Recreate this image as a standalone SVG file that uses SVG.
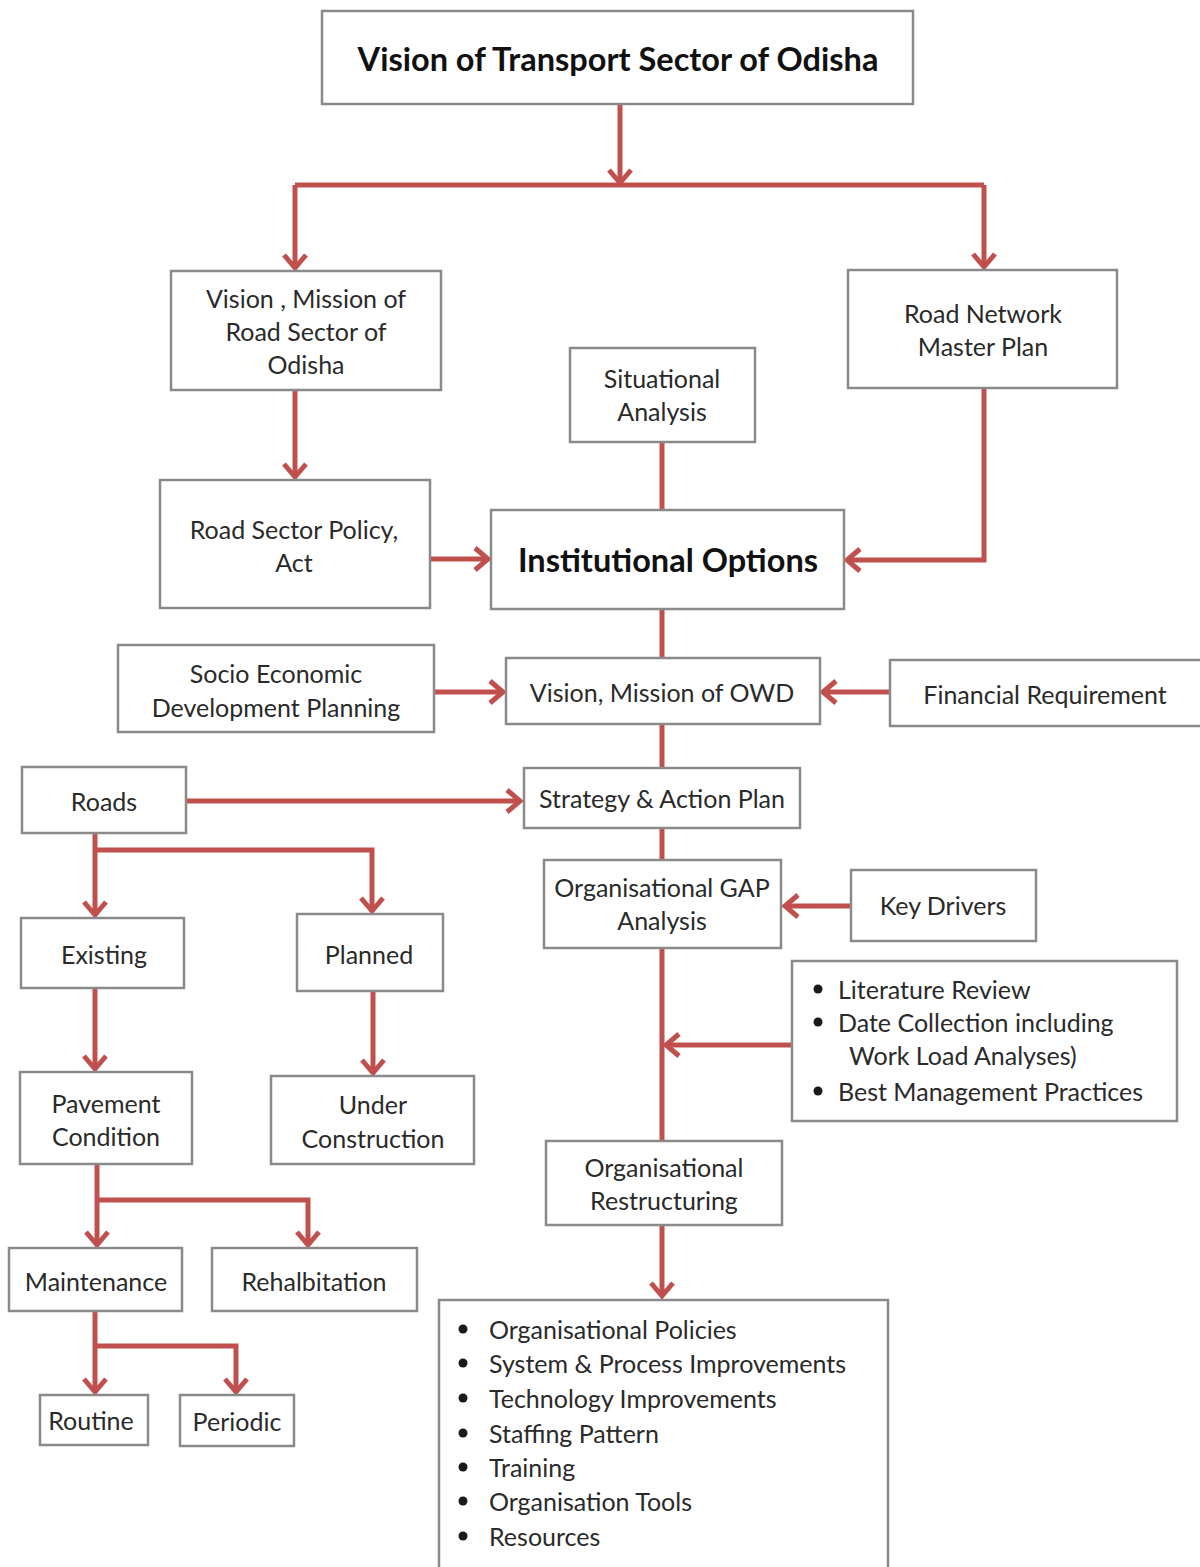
<svg xmlns="http://www.w3.org/2000/svg" width="1200" height="1567" viewBox="0 0 1200 1567">
  <style>
    .box { fill: #ffffff; stroke: #8a8a8a; stroke-width: 2.5; }
    .lbl { font-family: Lato, "Open Sans", "Liberation Sans", sans-serif; font-size: 25px; fill: #2a2a2a; text-anchor: middle; dominant-baseline: central; }
    .lft { text-anchor: start; }
    .big { font-size: 32.5px; font-weight: bold; fill: #111111; }
    .wire { fill: none; stroke: #c0504d; stroke-width: 5; }
    .arr { marker-end: url(#head); }
    .dot { fill: #1a1a1a; }
  </style>
  <defs>
    <marker id="head" markerUnits="userSpaceOnUse" viewBox="-18 -14 22 28" refX="0" refY="0" markerWidth="22" markerHeight="28" orient="auto">
      <path d="M-13,-11 L0,0 L-13,11" fill="none" stroke="#c0504d" stroke-width="5" stroke-linejoin="miter"/>
    </marker>
  </defs>
  <rect width="1200" height="1567" fill="#ffffff"/>

  <!-- connectors -->
  <g id="connectors">
    <path class="wire arr" d="M620,104 V183"/>
    <path class="wire" d="M295,185 H984"/>
    <path class="wire arr" d="M295,185 V268"/>
    <path class="wire arr" d="M984,185 V267"/>
    <path class="wire arr" d="M295,390 V477"/>
    <path class="wire arr" d="M430,559 H488"/>
    <path class="wire arr" d="M984,388 V560 H847"/>
    <path class="wire" d="M662,442 V510"/>
    <path class="wire" d="M662,609 V658"/>
    <path class="wire arr" d="M434,692 H503"/>
    <path class="wire arr" d="M890,692 H823"/>
    <path class="wire" d="M662,724 V768"/>
    <path class="wire arr" d="M186,801 H520"/>
    <path class="wire" d="M662,828 V860"/>
    <path class="wire arr" d="M851,906 H785"/>
    <path class="wire" d="M662,948 V1141"/>
    <path class="wire arr" d="M792,1045 H666"/>
    <path class="wire arr" d="M662,1225 V1296"/>
    <!-- road classification tree -->
    <path class="wire arr" d="M95,833 V915"/>
    <path class="wire arr" d="M95,850 H372 V911"/>
    <path class="wire arr" d="M95,988 V1069"/>
    <path class="wire arr" d="M373,991 V1073"/>
    <path class="wire arr" d="M97,1164 V1245"/>
    <path class="wire arr" d="M97,1200 H308 V1245"/>
    <path class="wire arr" d="M95,1311 V1392"/>
    <path class="wire arr" d="M95,1346 H236 V1392"/>
  </g>

  <g id="vision-transport">
    <rect class="box" x="322" y="11" width="591" height="93"/>
    <text class="lbl big" x="618" y="58">Vision of Transport Sector of Odisha</text>
  </g>
  <g id="vision-road-sector">
    <rect class="box" x="171" y="271" width="270" height="119"/>
    <text class="lbl" x="306" y="298">Vision , Mission of</text>
    <text class="lbl" x="306" y="331">Road Sector of</text>
    <text class="lbl" x="306" y="364">Odisha</text>
  </g>
  <g id="road-network-plan">
    <rect class="box" x="848" y="270" width="269" height="118"/>
    <text class="lbl" x="983" y="313">Road Network</text>
    <text class="lbl" x="983" y="346">Master Plan</text>
  </g>
  <g id="situational-analysis">
    <rect class="box" x="570" y="348" width="185" height="94"/>
    <text class="lbl" x="662" y="378">Situational</text>
    <text class="lbl" x="662" y="411">Analysis</text>
  </g>
  <g id="road-sector-policy">
    <rect class="box" x="160" y="480" width="270" height="128"/>
    <text class="lbl" x="294" y="529">Road Sector Policy,</text>
    <text class="lbl" x="294" y="562">Act</text>
  </g>
  <g id="institutional-options">
    <rect class="box" x="491" y="510" width="353" height="99"/>
    <text class="lbl big" x="668" y="559">Institutional Options</text>
  </g>
  <g id="socio-economic">
    <rect class="box" x="118" y="645" width="316" height="87"/>
    <text class="lbl" x="276" y="673">Socio Economic</text>
    <text class="lbl" x="276" y="707">Development Planning</text>
  </g>
  <g id="vision-owd">
    <rect class="box" x="506" y="658" width="314" height="66"/>
    <text class="lbl" x="662" y="692">Vision, Mission of OWD</text>
  </g>
  <g id="financial-requirement">
    <rect class="box" x="890" y="660" width="316" height="66"/>
    <text class="lbl" x="1045" y="694">Financial Requirement</text>
  </g>
  <g id="roads">
    <rect class="box" x="22" y="767" width="164" height="66"/>
    <text class="lbl" x="104" y="801">Roads</text>
  </g>
  <g id="strategy-action">
    <rect class="box" x="524" y="768" width="276" height="60"/>
    <text class="lbl" x="662" y="798">Strategy &amp; Action Plan</text>
  </g>
  <g id="gap-analysis">
    <rect class="box" x="544" y="860" width="237" height="88"/>
    <text class="lbl" x="662" y="887">Organisational GAP</text>
    <text class="lbl" x="662" y="920">Analysis</text>
  </g>
  <g id="key-drivers">
    <rect class="box" x="851" y="870" width="185" height="71"/>
    <text class="lbl" x="943" y="905">Key Drivers</text>
  </g>
  <g id="inputs-list">
    <rect class="box" x="792" y="961" width="385" height="160"/>
    <circle class="dot" cx="818" cy="989" r="4.5"/>
    <text class="lbl lft" x="838" y="989">Literature Review</text>
    <circle class="dot" cx="818" cy="1022" r="4.5"/>
    <text class="lbl lft" x="838" y="1022">Date Collection including</text>
    <text class="lbl lft" x="849" y="1055">Work Load Analyses)</text>
    <circle class="dot" cx="818" cy="1091" r="4.5"/>
    <text class="lbl lft" x="838" y="1091">Best Management Practices</text>
  </g>
  <g id="restructuring">
    <rect class="box" x="546" y="1141" width="236" height="84"/>
    <text class="lbl" x="664" y="1167">Organisational</text>
    <text class="lbl" x="664" y="1200">Restructuring</text>
  </g>
  <g id="outcomes-list">
    <rect class="box" x="439" y="1300" width="449" height="280"/>
    <circle class="dot" cx="463" cy="1329" r="4.5"/>
    <text class="lbl lft" x="489" y="1329">Organisational Policies</text>
    <circle class="dot" cx="463" cy="1363" r="4.5"/>
    <text class="lbl lft" x="489" y="1363">System &amp; Process Improvements</text>
    <circle class="dot" cx="463" cy="1398" r="4.5"/>
    <text class="lbl lft" x="489" y="1398">Technology Improvements</text>
    <circle class="dot" cx="463" cy="1433" r="4.5"/>
    <text class="lbl lft" x="489" y="1433">Staffing Pattern</text>
    <circle class="dot" cx="463" cy="1467" r="4.5"/>
    <text class="lbl lft" x="489" y="1467">Training</text>
    <circle class="dot" cx="463" cy="1501" r="4.5"/>
    <text class="lbl lft" x="489" y="1501">Organisation Tools</text>
    <circle class="dot" cx="463" cy="1536" r="4.5"/>
    <text class="lbl lft" x="489" y="1536">Resources</text>
  </g>
  <g id="existing">
    <rect class="box" x="21" y="918" width="163" height="70"/>
    <text class="lbl" x="104" y="954">Existing</text>
  </g>
  <g id="planned">
    <rect class="box" x="297" y="914" width="146" height="77"/>
    <text class="lbl" x="369" y="954">Planned</text>
  </g>
  <g id="pavement-condition">
    <rect class="box" x="20" y="1072" width="172" height="92"/>
    <text class="lbl" x="106" y="1103">Pavement</text>
    <text class="lbl" x="106" y="1136">Condition</text>
  </g>
  <g id="under-construction">
    <rect class="box" x="271" y="1076" width="203" height="88"/>
    <text class="lbl" x="373" y="1104">Under</text>
    <text class="lbl" x="373" y="1138">Construction</text>
  </g>
  <g id="maintenance">
    <rect class="box" x="9" y="1248" width="173" height="63"/>
    <text class="lbl" x="96" y="1281">Maintenance</text>
  </g>
  <g id="rehabilitation">
    <rect class="box" x="212" y="1248" width="205" height="63"/>
    <text class="lbl" x="314" y="1281">Rehalbitation</text>
  </g>
  <g id="routine">
    <rect class="box" x="40" y="1395" width="108" height="50"/>
    <text class="lbl" x="91" y="1420">Routine</text>
  </g>
  <g id="periodic">
    <rect class="box" x="180" y="1395" width="114" height="51"/>
    <text class="lbl" x="237" y="1421">Periodic</text>
  </g>
</svg>
